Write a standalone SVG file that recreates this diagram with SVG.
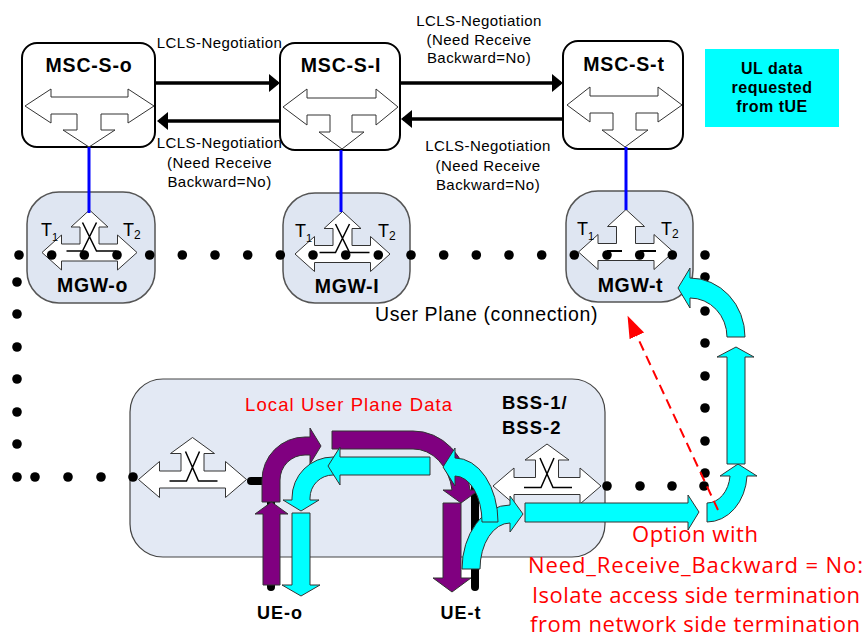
<svg xmlns="http://www.w3.org/2000/svg" xmlns:xlink="http://www.w3.org/1999/xlink" width="867" height="640" viewBox="0 0 867 640">
<style>
.lbl{font-family:"Liberation Sans",Arial,sans-serif;font-size:15px;letter-spacing:0.45px;fill:#000}
.ttl{font-family:"Liberation Sans",Arial,sans-serif;font-weight:bold;font-size:19.5px;letter-spacing:0.8px;fill:#000}
.tt{font-family:"Liberation Sans",Arial,sans-serif;font-size:18px;fill:#000}
.red{font-family:"Open Sans","Noto Sans",sans-serif;font-size:22px;fill:#ff0000}
.msc{fill:#fff;stroke:#000;stroke-width:2}
.mgw{fill:#dfe6f2;stroke:#555;stroke-width:1.5}
.sw{fill:#fff;stroke:#333;stroke-width:1}
.x{fill:none;stroke:#000;stroke-width:1.5}
.dot{fill:#000}
.ctl{stroke:#000;stroke-width:3.5;fill:none}
.blue{stroke:#0000ff;stroke-width:3}
.cy{fill:#00ffff;stroke:#333;stroke-width:1}
.pu{fill:#800080;stroke:#333;stroke-width:1}
.blk{stroke:#000;stroke-width:8;stroke-linecap:round;stroke-linejoin:round;fill:none}
</style>
<defs>
<marker id="ah" markerWidth="12" markerHeight="18" refX="9" refY="9" orient="auto" markerUnits="userSpaceOnUse"><path d="M0,0 L11,9 L0,18 Z" fill="#000"/></marker>
<marker id="rah" markerWidth="24" markerHeight="18" refX="2" refY="8" orient="auto" markerUnits="userSpaceOnUse"><path d="M0,0 L22,8 L0,16 Z" fill="#ff0000"/></marker>
<path id="mgwsw" d="M-47.5,0 L-28,-17.5 L-28,-8.5 L-9.5,-8.5 L-9.5,-25.5 L-18.5,-25.5 L0,-42.5 L18.5,-25.5 L9.5,-25.5 L9.5,-8.5 L28,-8.5 L28,-17.5 L47.5,0 L28,17.5 L28,8.5 L-28,8.5 L-28,17.5 Z"/>
<path id="mgwx" d="M-7,-30 L7,-1.5 L27,-1.5 M7,-30 L-7,-1.5 L-23,-1.5"/>
<path id="bsssw" d="M-54,0 L-33,-18 L-33,-8.5 L-11.5,-8.5 L-11.5,-26 L-22,-26 L0,-42 L22,-26 L11.5,-26 L11.5,-8.5 L33,-8.5 L33,-18 L54,0 L33,18 L33,8.5 L-33,8.5 L-33,18 Z"/>
<path id="bssx" d="M-7,-28 L6,1.5 L25,1.5 M7,-28 L-6,1.5 L-23,1.5"/>
</defs>
<rect width="867" height="640" fill="#fff"/>

<g id="bss">
<rect x="130" y="379" width="475" height="178" rx="33" fill="#e3e9f4" stroke="#444" stroke-width="1.2"/>
<use xlink:href="#bsssw" class="sw" transform="translate(192.5,479.5)"/>
<use xlink:href="#bssx" class="x" transform="translate(192.5,479.5)"/>
<use xlink:href="#bsssw" class="sw" transform="translate(547,486)"/>
<use xlink:href="#bssx" class="x" transform="translate(547,486)"/>
<text class="ttl" x="502" y="409" style="font-size:18.5px;letter-spacing:1px">BSS-1/</text>
<text class="ttl" x="502" y="434" style="font-size:18.5px;letter-spacing:1px">BSS-2</text>
</g>

<g id="msc-s-o">
<rect class="msc" x="22" y="43" width="133" height="104" rx="15"/>
<path class="sw" d="M25,106 L51,89 L51,97 L128,97 L128,89 L154,106 L128,123 L128,114 L101,114 L101,130 L115,130 L89,147 L63,130 L77,130 L77,114 L51,114 L51,123 Z"/>
<text class="ttl" x="89" y="71.5" text-anchor="middle">MSC-S-o</text>
</g>
<g id="msc-s-i">
<rect class="msc" x="280" y="43" width="120" height="107" rx="15"/>
<path class="sw" d="M283,107 L307,89 L307,98 L376,98 L376,89 L398,107 L376,125 L376,115 L352,115 L352,132 L364,132 L342,149 L319,132 L330,132 L330,115 L307,115 L307,125 Z"/>
<text class="ttl" x="341" y="72" text-anchor="middle">MSC-S-I</text>
</g>
<g id="msc-s-t">
<rect class="msc" x="563" y="41" width="120" height="108" rx="15"/>
<path class="sw" d="M567,105 L590,87 L590,96 L658,96 L658,87 L682,105 L658,122 L658,113 L636,113 L636,130 L648,130 L625,147 L602,130 L613,130 L613,113 L590,113 L590,122 Z"/>
<text class="ttl" x="624" y="71" text-anchor="middle">MSC-S-t</text>
</g>
<g id="ul-note">
<rect x="705" y="49" width="134" height="78" fill="#00ffff"/>
<text class="ttl" x="772" y="74" text-anchor="middle" style="font-size:16px;letter-spacing:0.5px">UL data</text>
<text class="ttl" x="772" y="93" text-anchor="middle" style="font-size:16px;letter-spacing:0.5px">requested</text>
<text class="ttl" x="772" y="112" text-anchor="middle" style="font-size:16px;letter-spacing:0.5px">from tUE</text>
</g>

<g id="mgw-o">
<rect class="mgw" x="27" y="192" width="128" height="111" rx="32"/>
<use xlink:href="#mgwsw" class="sw" transform="translate(89.5,252.5)"/>
<use xlink:href="#mgwx" class="x" transform="translate(89.5,252.5)"/>
<text class="tt" x="41" y="236">T<tspan font-size="11" dy="5">1</tspan></text>
<text class="tt" x="123" y="236">T<tspan font-size="12" dy="3">2</tspan></text>
<text class="ttl" x="92.5" y="292" text-anchor="middle" style="letter-spacing:0.6px">MGW-o</text>
</g>
<g id="mgw-i">
<rect class="mgw" x="283" y="193" width="127" height="110" rx="32"/>
<use xlink:href="#mgwsw" class="sw" transform="translate(342.5,254)"/>
<use xlink:href="#mgwx" class="x" transform="translate(342.5,254)"/>
<text class="tt" x="295" y="237">T<tspan font-size="11" dy="5">1</tspan></text>
<text class="tt" x="378" y="237">T<tspan font-size="12" dy="3">2</tspan></text>
<text class="ttl" x="347" y="293" text-anchor="middle" style="letter-spacing:0.6px">MGW-I</text>
</g>
<g id="mgw-t">
<rect class="mgw" x="566" y="191" width="127" height="111" rx="32"/>
<use xlink:href="#mgwsw" class="sw" transform="translate(626,252)"/>
<text class="tt" x="577" y="235">T<tspan font-size="11" dy="5">1</tspan></text>
<text class="tt" x="661" y="235">T<tspan font-size="12" dy="3">2</tspan></text>
<text class="ttl" x="630.5" y="292" text-anchor="middle" style="letter-spacing:0.6px">MGW-t</text>
</g>

<g id="connectors">
<line class="ctl" x1="155" y1="83" x2="278" y2="83" marker-end="url(#ah)"/>
<line class="ctl" x1="280" y1="121" x2="159" y2="121" marker-end="url(#ah)"/>
<line class="ctl" x1="400" y1="83" x2="561" y2="83" marker-end="url(#ah)"/>
<line class="ctl" x1="563" y1="119" x2="403" y2="119" marker-end="url(#ah)"/>
<line class="blue" x1="89" y1="147" x2="89" y2="213"/>
<line class="blue" x1="341" y1="150" x2="341" y2="212"/>
<line class="blue" x1="626" y1="147" x2="626" y2="210"/>
<line x1="607" y1="251" x2="622" y2="251" stroke="#000" stroke-width="2"/>
<line x1="640" y1="251" x2="656" y2="251" stroke="#000" stroke-width="2"/>
<polyline class="blk" points="251,481 271,481 271,587"/>
<line class="blk" x1="475" y1="485" x2="475" y2="587"/>
<g id="user-plane-dots">
<circle class="dot" cx="19" cy="255" r="4.8"/><circle class="dot" cx="51.7" cy="255" r="4.8"/><circle class="dot" cx="84.3" cy="255" r="4.8"/><circle class="dot" cx="117" cy="255" r="4.8"/><circle class="dot" cx="149.7" cy="255" r="4.8"/><circle class="dot" cx="182.3" cy="255" r="4.8"/><circle class="dot" cx="215" cy="255" r="4.8"/><circle class="dot" cx="247.7" cy="255" r="4.8"/><circle class="dot" cx="280.3" cy="255" r="4.8"/><circle class="dot" cx="313" cy="255" r="4.8"/><circle class="dot" cx="345.7" cy="255" r="4.8"/><circle class="dot" cx="378.3" cy="255" r="4.8"/><circle class="dot" cx="411" cy="255" r="4.8"/><circle class="dot" cx="443.7" cy="255" r="4.8"/><circle class="dot" cx="476.3" cy="255" r="4.8"/><circle class="dot" cx="509" cy="255" r="4.8"/><circle class="dot" cx="541.7" cy="255" r="4.8"/><circle class="dot" cx="574.3" cy="255" r="4.8"/><circle class="dot" cx="607" cy="255" r="4.8"/><circle class="dot" cx="639.7" cy="255" r="4.8"/><circle class="dot" cx="672.3" cy="255" r="4.8"/><circle class="dot" cx="705" cy="255" r="4.8"/>
<circle class="dot" cx="17" cy="282" r="4.8"/><circle class="dot" cx="17" cy="314" r="4.8"/><circle class="dot" cx="17" cy="347" r="4.8"/><circle class="dot" cx="17" cy="379" r="4.8"/><circle class="dot" cx="17" cy="412" r="4.8"/><circle class="dot" cx="17" cy="444" r="4.8"/><circle class="dot" cx="17" cy="477" r="4.8"/>
<circle class="dot" cx="35" cy="477" r="4.8"/><circle class="dot" cx="68" cy="477" r="4.8"/><circle class="dot" cx="101" cy="477" r="4.8"/><circle class="dot" cx="133" cy="477" r="4.8"/>
<circle class="dot" cx="705" cy="277" r="4.8"/><circle class="dot" cx="705" cy="311" r="4.8"/><circle class="dot" cx="705" cy="343" r="4.8"/><circle class="dot" cx="705" cy="376" r="4.8"/><circle class="dot" cx="705" cy="408" r="4.8"/><circle class="dot" cx="705" cy="441" r="4.8"/><circle class="dot" cx="705" cy="473" r="4.8"/>
<circle class="dot" cx="607" cy="486" r="4.8"/><circle class="dot" cx="640" cy="486" r="4.8"/><circle class="dot" cx="672" cy="486" r="4.8"/><circle class="dot" cx="704" cy="486" r="4.8"/>
</g>
<g id="data-flows">
<path class="pu" d="M262,502 L262,480 A43,43 0 0 1 305,437 L310,437 L310,428 L321,446 L310,464 L310,455 L305,455 A25,25 0 0 0 280,480 L280,502 Z"/>
<path class="pu" d="M263,585 L263,514 L255,514 L271.5,502 L288,514 L280,514 L280,585 Z"/>
<path class="cy" d="M292,513 L310,513 L310,585 L320,585 L301,596 L282,585 L292,585 Z"/>
<path class="cy" d="M338,457 L333,457 A41,41 0 0 0 292,498 L292,500 L283,500 L301,511 L319,500 L310,500 L310,498 A23,23 0 0 1 333,475 L338,475 Z"/>
<path class="pu" d="M332,431 L413,431 A57,66 0 0 1 470,490 L479,490 L461,503 L443,490 L452,490 A39,48 0 0 0 413,449 L332,449 Z"/>
<path class="cy" d="M430,457 L340,457 L340,447 L328,466 L340,485 L340,475 L430,475 Z"/>
<path class="pu" d="M443,503 L461,503 L461,578 L471,578 L452,592 L433,578 L443,578 Z"/>
<path class="cy" d="M462,569 A48,64 0 0 1 510,505 L510,496 L523,514 L510,532 L510,523 A30,46 0 0 0 480,569 Z"/>
<path class="cy" d="M498,522 A43,64 0 0 0 455,458 L455,448 L443,467 L455,486 L455,476 A27,46 0 0 1 482,522 Z"/>
<path class="cy" d="M525,503 L688,503 L688,495 L699,512 L688,530 L688,522 L525,522 Z"/>
<path class="cy" d="M707,522 A40,49 0 0 0 747,476 L757,476 L738,464 L720,476 L730,476 A23,30 0 0 1 707,503 Z"/>
<path class="cy" d="M727,464 L745,464 L745,357 L754,357 L736,347 L717,357 L727,357 Z"/>
<path class="cy" d="M745,337 A55,59 0 0 0 690,278 L690,268 L678,288 L690,308 L690,298 A37,39 0 0 1 727,337 Z"/>
</g>
<line x1="718" y1="510" x2="636" y2="334" stroke="#ff0000" stroke-width="2" stroke-dasharray="10,6" marker-end="url(#rah)"/>
</g>

<g id="labels">
<text class="lbl" x="219.5" y="48" text-anchor="middle">LCLS-Negotiation</text>
<text class="lbl" x="219.5" y="148" text-anchor="middle">LCLS-Negotiation</text>
<text class="lbl" x="219.5" y="168" text-anchor="middle">(Need Receive</text>
<text class="lbl" x="219.5" y="187" text-anchor="middle">Backward=No)</text>
<text class="lbl" x="479" y="26" text-anchor="middle">LCLS-Negotiation</text>
<text class="lbl" x="479" y="45" text-anchor="middle">(Need Receive</text>
<text class="lbl" x="479" y="63" text-anchor="middle">Backward=No)</text>
<text class="lbl" x="488" y="151" text-anchor="middle">LCLS-Negotiation</text>
<text class="lbl" x="488" y="170.5" text-anchor="middle">(Need Receive</text>
<text class="lbl" x="488" y="190" text-anchor="middle">Backward=No)</text>
<text class="lbl" x="375" y="321" style="font-size:19.5px;letter-spacing:0.6px">User Plane (connection)</text>
<text class="lbl" x="245" y="411" style="font-size:18.5px;letter-spacing:1.1px;fill:#ff0000">Local User Plane Data</text>
<text class="ttl" x="280" y="619" text-anchor="middle" style="font-size:18px;letter-spacing:1px">UE-o</text>
<text class="ttl" x="461" y="619" text-anchor="middle" style="font-size:18px;letter-spacing:1px">UE-t</text>
<text class="red" x="695" y="542" text-anchor="middle" textLength="126" lengthAdjust="spacing">Option with</text>
<text class="red" x="695.5" y="573" text-anchor="middle" textLength="335" lengthAdjust="spacing">Need_Receive_Backward = No:</text>
<text class="red" x="696" y="603" text-anchor="middle" textLength="328" lengthAdjust="spacing">Isolate access side termination</text>
<text class="red" x="695" y="632" text-anchor="middle" textLength="330" lengthAdjust="spacing">from network side termination</text>
</g>
</svg>
